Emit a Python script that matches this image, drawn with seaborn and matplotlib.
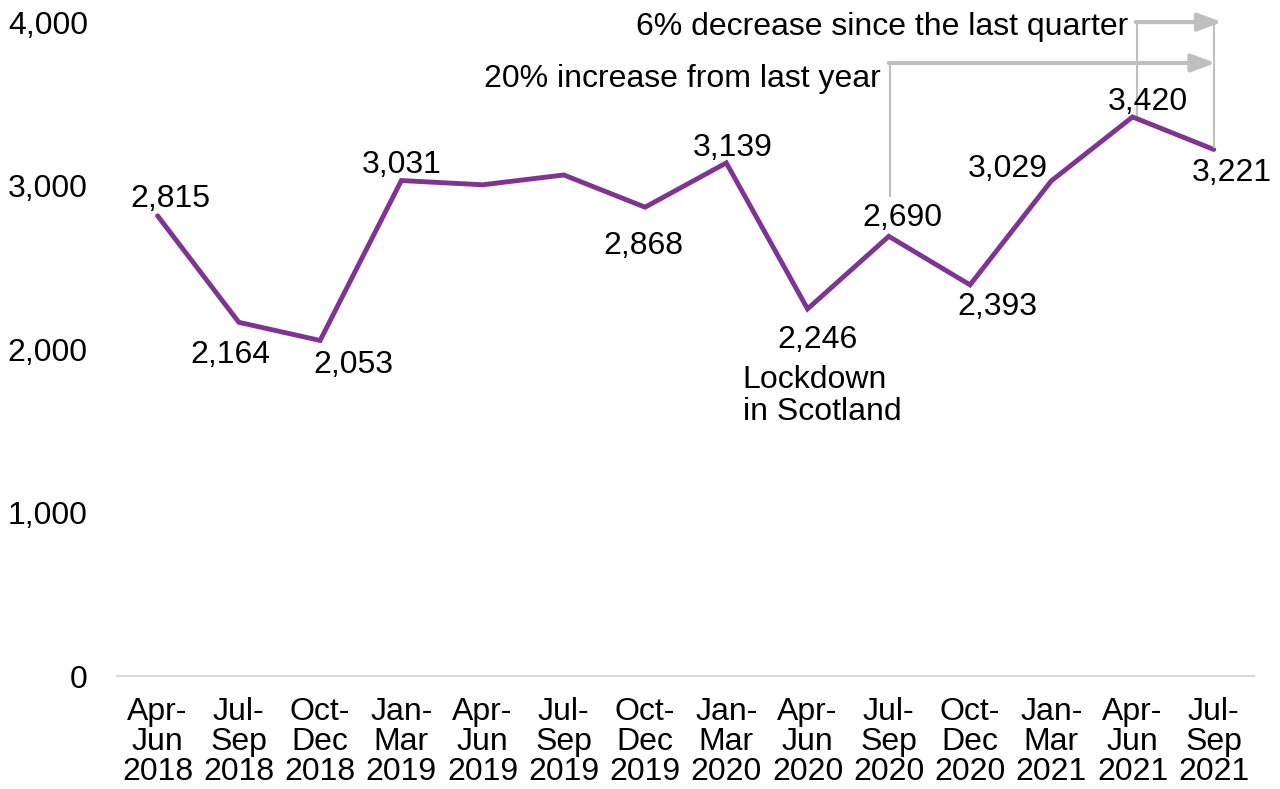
import matplotlib
matplotlib.use("Agg")
import matplotlib.pyplot as plt
import seaborn as sns
import pandas as pd

quarters = ["Apr-\nJun\n2018", "Jul-\nSep\n2018", "Oct-\nDec\n2018", "Jan-\nMar\n2019",
            "Apr-\nJun\n2019", "Jul-\nSep\n2019", "Oct-\nDec\n2019", "Jan-\nMar\n2020",
            "Apr-\nJun\n2020", "Jul-\nSep\n2020", "Oct-\nDec\n2020", "Jan-\nMar\n2021",
            "Apr-\nJun\n2021", "Jul-\nSep\n2021"]
values = [2815, 2164, 2053, 3031, 3005, 3065, 2868, 3139, 2246, 2690, 2393, 3029, 3420, 3221]
labelled = [True, True, True, True, False, False, True, True, True, True, True, True, True, True]
y_ticks = [0, 1000, 2000, 3000, 4000]

# label offsets in pixels relative to each point
offsets = [(13, 17), (-8, -33), (33, -25), (0, 16), (0, 0), (0, 0), (-2, -39), (6, 15),
           (10, -31), (14, 18), (27, -22), (-44, 12), (15, 15), (18, -24)]

FS = 23

sns.set_theme(style="white")
plt.rcParams["font.family"] = ["Liberation Sans", "DejaVu Sans"]

df = pd.DataFrame({"quarter": quarters, "value": values, "idx": range(len(values))})

fig = plt.figure(figsize=(12.8, 7.89), dpi=100)
ax = fig.add_axes([0.0914, 0.143, 0.8886, 0.829])

purple = "#7F3494"
grey = "#BFBFBF"
sns.lineplot(data=df, x="idx", y="value", color=purple, linewidth=3.5, ax=ax,
             solid_joinstyle="miter")

ax.set_xlim(-0.5, len(values) - 0.5)
ax.set_ylim(0, 4000)
ax.set_xticks(range(len(values)))
ax.set_xticklabels(quarters, fontsize=FS, linespacing=1.01, color="black")
ax.set_yticks(y_ticks)
ax.set_yticklabels([f"{v:,}" for v in y_ticks], fontsize=FS, color="black")
ax.tick_params(axis="x", length=0, pad=15)
ax.tick_params(axis="y", length=0, pad=21)
ax.set_xlabel("")
ax.set_ylabel("")
for s in ["top", "right", "left"]:
    ax.spines[s].set_visible(False)
ax.spines["bottom"].set_color("#D9D9D9")
ax.spines["bottom"].set_linewidth(1.5)

for i, (v, show, off) in enumerate(zip(values, labelled, offsets)):
    if show:
        ax.annotate(f"{v:,}", (i, v), xytext=off, textcoords="offset pixels",
                    ha="center", va="center", fontsize=FS, color="black")

ax.annotate("Lockdown\nin Scotland", (8, values[8]), xytext=(-65, -87),
            textcoords="offset pixels", ha="left", va="center", fontsize=FS,
            linespacing=1.12, color="black")

arrow_style = dict(arrowstyle="-|>,head_length=1.2,head_width=0.45",
                   color=grey, lw=3, shrinkA=0, shrinkB=0)

# year-on-year arrow: from Jul-Sep 2020 up and across to Jul-Sep 2021
y_yoy = 3750
ax.plot([9.01, 9.01], [2930, y_yoy], color=grey, lw=1.5, solid_capstyle="butt")
ax.annotate("", xy=(13.02, y_yoy), xytext=(9.0, y_yoy), arrowprops=arrow_style)
ax.text(8.9, y_yoy - 100, "20% increase from last year", ha="right", va="center",
        fontsize=FS, color="black")

# quarter-on-quarter arrow: from Apr-Jun 2021 up and across to Jul-Sep 2021
y_qoq = 4000
ax.plot([12.05, 12.05], [3420, y_qoq], color=grey, lw=1.5, solid_capstyle="butt",
        zorder=1)
ax.plot([13, 13], [3221 + 10, y_qoq], color=grey, lw=1.5, solid_capstyle="butt")
ax.annotate("", xy=(13.1, y_qoq), xytext=(12.04, y_qoq), arrowprops=arrow_style,
            annotation_clip=False)
ax.text(11.95, y_qoq - 30, "6% decrease since the last quarter", ha="right",
        va="center", fontsize=FS, color="black")

fig.savefig("out.png", dpi=100)
